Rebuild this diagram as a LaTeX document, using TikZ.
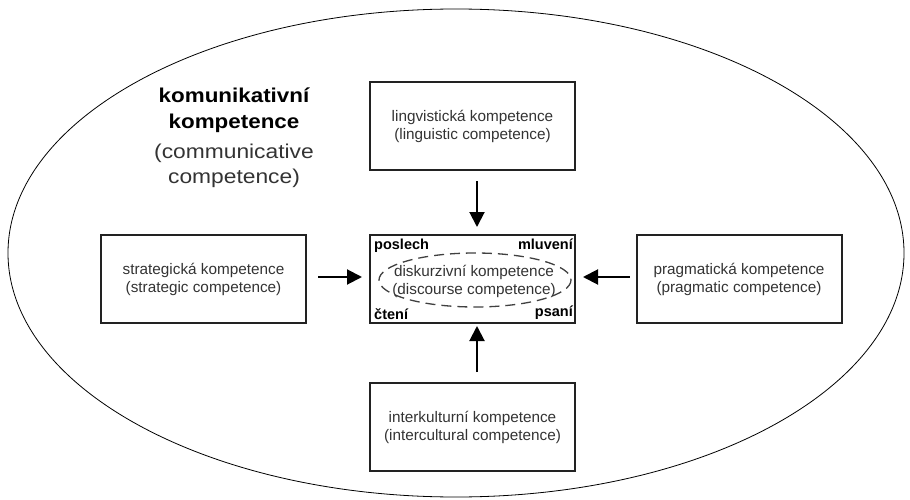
\documentclass[tikz,border=0pt]{standalone}
\usepackage{fontspec}
\setmainfont{Liberation Sans}
\newfontfamily\titlebf[FakeStretch=1.12]{Liberation Sans Bold}
\newfontfamily\titlerm[FakeStretch=1.14]{Liberation Sans}
\usetikzlibrary{arrows.meta}
\definecolor{txt}{HTML}{333333}
\definecolor{frame}{HTML}{222222}
\begin{document}
\begin{tikzpicture}[x=1pt,y=-1pt,
  box/.style={draw=frame,line width=2pt,minimum width=205pt,minimum height=88pt,inner sep=0pt,
    align=center,font=\fontsize{15.3}{18}\selectfont,text=txt},
  corner/.style={font=\bfseries\fontsize{14.5}{16}\selectfont,inner sep=0pt},
  arr/.style={line width=2pt,-{Triangle[length=15pt,width=15pt]}}]
\useasboundingbox (0,0) rectangle (910,500);
\draw[line width=0.8pt] (456,253) ellipse [x radius=448,y radius=244];
\node[align=center,inner sep=0pt,font=\titlebf\fontsize{20}{26}\selectfont] (title) at (234,110) {komunikativní\\kompetence};
\node[align=center,inner sep=0pt,font=\titlerm\fontsize{20}{25}\selectfont,text=txt] (titleen) at (234,166) {(communicative\\competence)};
\node[box] (ling) at (472.5,126) {lingvistická kompetence\\(linguistic competence)};
\node[box] (strat) at (203.5,279) {strategická kompetence\\(strategic competence)};
\node[box] (disk) at (472.5,279) {};
\node[box] (prag) at (739,279) {pragmatická kompetence\\(pragmatic competence)};
\node[box] (inter) at (472.5,427) {interkulturní kompetence\\(intercultural competence)};
\draw[line width=1.3pt,draw=black!75,dash pattern=on 10pt off 6pt] (475,280) ellipse [x radius=96,y radius=27];
\node[align=center,font=\fontsize{15.3}{18}\selectfont,text=txt] (dtext) at (474,281) {diskurzivní kompetence\\(discourse competence)};
\node[corner,anchor=north west] (posl) at ([shift={(5,5)}]disk.north west) {poslech};
\node[corner,anchor=north east] (mluv) at ([shift={(-3,5)}]disk.north east) {mluvení};
\node[corner,anchor=south west] (cten) at ([shift={(5,-4)}]disk.south west) {čtení};
\node[corner,anchor=south east] (psan) at ([shift={(-3,-4)}]disk.south east) {psaní};
\draw[arr] ([xshift=4.5pt,yshift=-10pt]ling.south) -- ([xshift=4.5pt,yshift=7pt]disk.north);
\draw[arr] ([xshift=4.5pt,yshift=10pt]inter.north) -- ([xshift=4.5pt,yshift=-2pt]disk.south);
\draw[arr] ([xshift=11pt,yshift=2pt]strat.east) -- ([xshift=-7pt,yshift=2pt]disk.west);
\draw[arr] ([xshift=-6pt,yshift=2pt]prag.west) -- ([xshift=7pt,yshift=2pt]disk.east);
\end{tikzpicture}
\end{document}
